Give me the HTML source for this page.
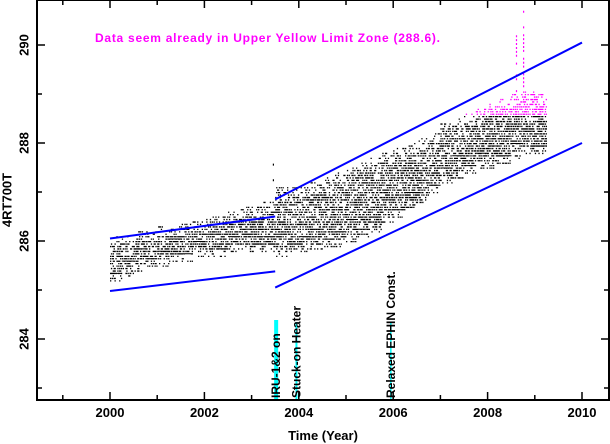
<!DOCTYPE html>
<html><head><meta charset="utf-8"><style>
html,body{margin:0;padding:0;background:#fff;}
svg{display:block;font-family:"Liberation Sans",sans-serif;}
</style></head><body>
<svg id="chart" width="610" height="444" viewBox="0 0 610 444">
<g id="data"></g>
<g id="lines"></g>
<g id="axes"></g>
</svg>
<script>
// ---- data ----
const binYears = [2000.0,2000.25,2000.5,2000.75,2001.0,2001.25,2001.5,2001.75,2002.0,2002.25,2002.5,2002.75,2003.0,2003.25,2003.5,2003.75,2004.0,2004.25,2004.5,2004.75,2005.0,2005.25,2005.5,2005.75,2006.0,2006.25,2006.5,2006.75,2007.0,2007.25,2007.5,2007.75,2008.0,2008.25,2008.5,2008.75,2009.0];
const binLow  = [285.2,285.3,285.4,285.5,285.5,285.6,285.6,285.7,285.7,285.7,285.8,285.8,285.8,285.8,285.7,285.8,285.8,285.8,285.9,285.9,286.0,286.1,286.2,286.4,286.5,286.7,286.8,287.0,287.2,287.3,287.4,287.5,287.5,287.6,287.7,287.8,287.8];
const binHigh = [286.1,286.1,286.2,286.2,286.3,286.3,286.4,286.4,286.5,286.5,286.6,286.7,286.7,286.8,287.1,287.1,287.1,287.2,287.3,287.4,287.5,287.6,287.7,287.8,287.9,288.0,288.1,288.2,288.4,288.5,288.6,288.7,288.8,288.9,289.0,289.1,289.0];
const limitSegments = [
  [2000,286.05,2003.5,286.5],[2000,284.98,2003.5,285.38],
  [2003.5,286.85,2010,290.05],[2003.5,285.05,2010,288.0]];
const yellowLimit = 288.6;
const spikeYears = [2003.45,2008.6,2008.75];
const spikeTops = [287.6,290.3,290.7];
const xTicks = [2000,2002,2004,2006,2008,2010];
const yTicks = [284,286,288,290];
const events = [{year:2003.52,label:"IRU-1&2 on",w:4,top:320},{year:2003.95,label:"Stuck-on Heater",w:2,top:322},{year:2005.95,label:"Relaxed EPHIN Const.",w:1.5,top:322}];

// ---- axes ----
const X0=37,X1=609,Y0=0,Y1=400;
const xs=y=>110+(y-2000)*47.2;
const ys=v=>241-(v-286)*49;
const NS="http://www.w3.org/2000/svg";
function mk(tag,attrs,parent){const e=document.createElementNS(NS,tag);for(const k in attrs)e.setAttribute(k,attrs[k]);parent.appendChild(e);return e;}
const gd=document.getElementById('data'),gl=document.getElementById('lines'),ga=document.getElementById('axes');
function h(a,b){let x=(a*73856093)^(b*19349663);x=(x^(x>>>13))*1274126177;x=x^(x>>>16);return (x>>>0)%100;}

let dpath="",mpath="";
const N=13;
for(let b=0;b<binYears.length;b++){
  for(let i=0;i<N;i++){
    const t=binYears[b]+i*0.25/N;
    const ii=b*N+i;
    for(let v=binLow[b],j=0;v<=binHigh[b]+1e-6;v+=0.05,j++){
      const edge=Math.min(v-binLow[b],binHigh[b]-v);
      const thr=edge<0.15?22:48;
      if(h(ii,j)>=thr)continue;
      const px=xs(t).toFixed(1),py=ys(v).toFixed(1);
      const s=`M${px} ${py}h1.3v1.3h-1.3z`;
      if(v>yellowLimit) mpath+=s; else dpath+=s;
    }
  }
  const lv=binLow[b]+0.15*((b%3)+1);
  const x1=xs(binYears[b]).toFixed(1);
  dpath+=`M${x1} ${ys(lv).toFixed(1)}h12v1h-12z`;
}
spikeYears.forEach((sy,k)=>{
  const top=spikeTops[k];
  const b=Math.min(binYears.length-1,Math.round((sy-2000)/0.25));
  for(let v=binHigh[b],j=0;v<=top;v+=0.08,j++){
    if(h(k+7,j)>=55)continue;
    const s=`M${xs(sy).toFixed(1)} ${ys(v).toFixed(1)}h1.2v2h-1.2z`;
    if(v>yellowLimit) mpath+=s; else dpath+=s;
  }
});
const pb=mk('path',{d:dpath,fill:'#000'},gd);


const pm=mk('path',{d:mpath,fill:'#ff00ff'},gd);



events.forEach(ev=>{
  const x=xs(ev.year);
  const r=mk('rect',{x:x-ev.w/2,y:ev.top,width:ev.w,height:Y1-ev.top,fill:'#00ffff'},gl);
  
  
  const t=mk('text',{x:x,y:Y1-2,transform:`rotate(-90 ${x} ${Y1-2})`,'font-size':12,'font-weight':'bold',fill:'#000','dominant-baseline':'central'},gl);
  t.textContent=ev.label;
  
  
});

limitSegments.forEach(s=>{
  const l=mk('line',{x1:xs(s[0]),y1:ys(s[1]),x2:xs(s[2]),y2:ys(s[3]),stroke:'#0000ff','stroke-width':2},gl);
  
  
});

const frame=mk('rect',{x:X0,y:Y0,width:X1-X0,height:Y1-Y0,fill:'none',stroke:'#000','stroke-width':2},ga);


for(let y=1999;y<=2010;y++){
  const x=xs(y),L=(y%2===0)?8:5;
  mk('line',{x1:x,y1:Y1,x2:x,y2:Y1-L,stroke:'#000','stroke-width':1.5},ga);
  mk('line',{x1:x,y1:Y0,x2:x,y2:Y0+L,stroke:'#000','stroke-width':1.5},ga);
}
xTicks.forEach(y=>{
  const t=mk('text',{x:xs(y),y:417,'font-size':13,'font-weight':'bold','text-anchor':'middle'},ga);
  t.textContent=y;
  
  
});
for(let v=283;v<=291;v++){
  const y=ys(v),L=(v%2===0)?8:5;
  if(y<Y0||y>Y1)continue;
  mk('line',{x1:X0,y1:y,x2:X0+L,y2:y,stroke:'#000','stroke-width':1.5},ga);
  mk('line',{x1:X1,y1:y,x2:X1-L,y2:y,stroke:'#000','stroke-width':1.5},ga);
}
yTicks.forEach(v=>{
  const y=ys(v);
  const t=mk('text',{x:24,y:y,'font-size':13,'font-weight':'bold','text-anchor':'middle',transform:`rotate(-90 24 ${y})`,'dominant-baseline':'central'},ga);
  t.textContent=v;
  
  
});
const xt=mk('text',{x:323,y:440,'font-size':13,'font-weight':'bold','text-anchor':'middle'},ga);
xt.textContent="Time (Year)";


const yt=mk('text',{x:7,y:200,'font-size':13,'font-weight':'bold','text-anchor':'middle',transform:'rotate(-90 7 200)','dominant-baseline':'central'},ga);
yt.textContent="4RT700T";


const note=mk('text',{x:95,y:42,'font-size':12,'font-weight':'bold',fill:'#ff00ff',textLength:345,lengthAdjust:'spacing'},ga);
note.textContent="Data seem already in Upper Yellow  Limit Zone (288.6).";


</script>
</body></html>
